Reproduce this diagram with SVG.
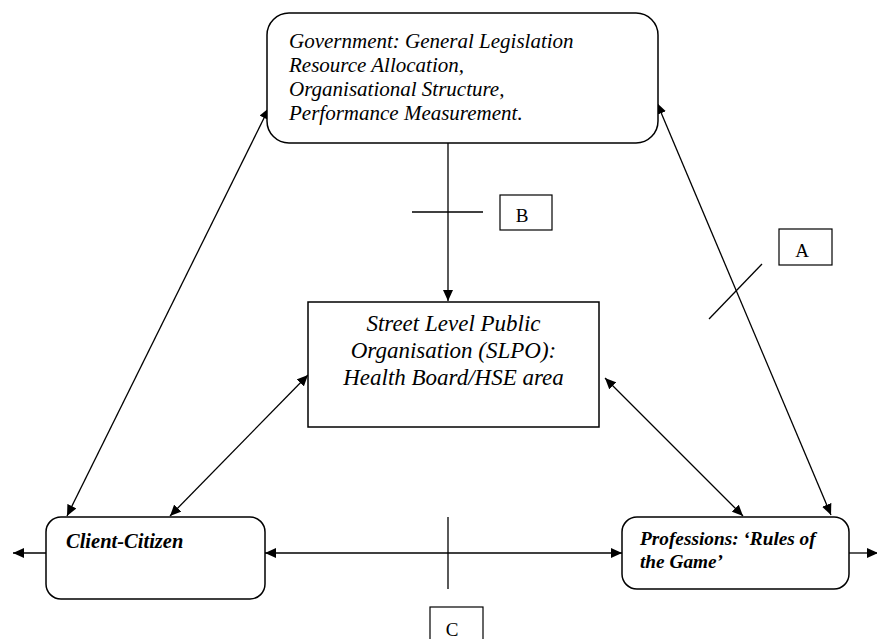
<svg xmlns="http://www.w3.org/2000/svg" width="877" height="639" viewBox="0 0 877 639">
<style>
.box{fill:#fff;stroke:#000;stroke-width:1.5}
.lbl{fill:#fff;stroke:#000;stroke-width:1.2}
.ln{stroke:#000;stroke-width:1.3;fill:none}
.it{font-family:"Liberation Serif","Times New Roman",serif;font-style:italic;fill:#000}
.bi{font-family:"Liberation Serif","Times New Roman",serif;font-style:italic;font-weight:bold;fill:#000}
.rm{font-family:"Liberation Serif","Times New Roman",serif;fill:#000;font-size:19px}
</style>
<defs>
<marker id="ah" markerUnits="userSpaceOnUse" markerWidth="12" markerHeight="10" refX="11" refY="5" orient="auto-start-reverse">
<path d="M0,0 L11,5 L0,10 z" fill="#000"/>
</marker>
</defs>
<g id="connectors">
<line class="ln" x1="448" y1="143" x2="448" y2="301" marker-end="url(#ah)"/>
<line class="ln" x1="412" y1="212" x2="483" y2="212"/>
<line class="ln" x1="269" y1="108" x2="67" y2="516" marker-start="url(#ah)" marker-end="url(#ah)"/>
<line class="ln" x1="657" y1="103" x2="831" y2="515" marker-start="url(#ah)" marker-end="url(#ah)"/>
<line class="ln" x1="709" y1="319" x2="762" y2="264"/>
<line class="ln" x1="170" y1="516" x2="308" y2="375" marker-start="url(#ah)" marker-end="url(#ah)"/>
<line class="ln" x1="605" y1="378" x2="743" y2="516" marker-start="url(#ah)" marker-end="url(#ah)"/>
<line class="ln" x1="265" y1="553" x2="622" y2="553" marker-start="url(#ah)" marker-end="url(#ah)"/>
<line class="ln" x1="46" y1="553" x2="13" y2="553" marker-end="url(#ah)"/>
<line class="ln" x1="849" y1="553" x2="878" y2="553" marker-end="url(#ah)"/>
<line class="ln" x1="448" y1="517" x2="448" y2="589"/>
</g>
<g id="government">
<rect class="box" x="267" y="13" width="391" height="130" rx="22" ry="22"/>
<text class="it" font-size="21" x="289" y="48">Government: General Legislation</text>
<text class="it" font-size="21" x="289" y="72">Resource Allocation,</text>
<text class="it" font-size="21" x="289" y="96">Organisational Structure,</text>
<text class="it" font-size="21" x="289" y="120">Performance Measurement.</text>
</g>
<g id="slpo">
<rect class="box" x="308" y="302" width="291" height="125"/>
<text class="it" font-size="23" x="453.5" y="331" text-anchor="middle">Street Level Public</text>
<text class="it" font-size="23" x="453.5" y="358" text-anchor="middle">Organisation (SLPO):</text>
<text class="it" font-size="23" x="453.5" y="385" text-anchor="middle">Health Board/HSE area</text>
</g>
<g id="client">
<rect class="box" x="46" y="517" width="219" height="82" rx="15" ry="15"/>
<text class="bi" font-size="20.5" x="66" y="548">Client-Citizen</text>
</g>
<g id="professions">
<rect class="box" x="622" y="517" width="227" height="72" rx="15" ry="15"/>
<text class="bi" font-size="19.3" x="640" y="545">Professions: ‘Rules of</text>
<text class="bi" font-size="19.3" x="640" y="568">the Game’</text>
</g>
<g id="label-a">
<rect class="lbl" x="779" y="229" width="53" height="36"/>
<text class="rm" x="802" y="257" text-anchor="middle">A</text>
</g>
<g id="label-b">
<rect class="lbl" x="500" y="195" width="52" height="35"/>
<text class="rm" x="522" y="222" text-anchor="middle">B</text>
</g>
<g id="label-c">
<rect class="lbl" x="430" y="607" width="53" height="36"/>
<text class="rm" x="452" y="636" text-anchor="middle">C</text>
</g>
</svg>
